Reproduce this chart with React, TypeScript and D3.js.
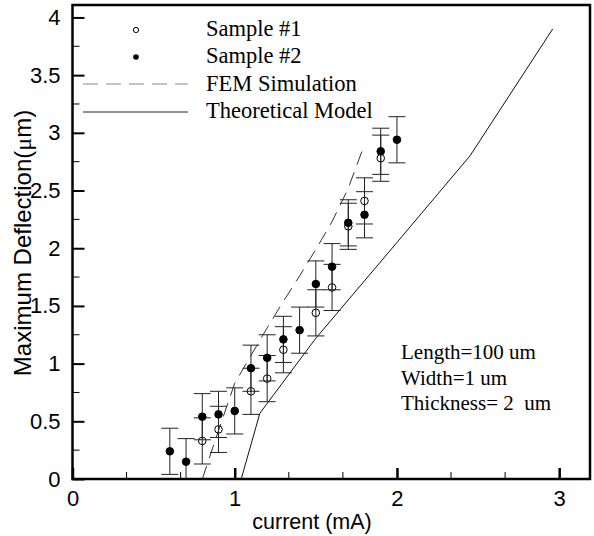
import React, { useEffect, useRef } from "react";
import * as d3 from "d3";

// Sample #1 (open circles)
const sample1X = [0.8, 0.9, 1.1, 1.2, 1.3, 1.5, 1.6, 1.7, 1.8, 1.9];
const sample1Y = [0.33, 0.43, 0.76, 0.87, 1.12, 1.44, 1.66, 2.19, 2.41, 2.78];
const sample1Err = [0.2, 0.2, 0.2, 0.2, 0.2, 0.2, 0.2, 0.2, 0.2, 0.2];

// Sample #2 (filled circles)
const sample2X = [0.6, 0.7, 0.8, 0.9, 1.0, 1.1, 1.2, 1.3, 1.4, 1.5, 1.6, 1.7, 1.8, 1.9, 2.0];
const sample2Y = [0.24, 0.15, 0.54, 0.56, 0.59, 0.96, 1.05, 1.21, 1.29, 1.69, 1.84, 2.22, 2.29, 2.84, 2.94];
const sample2Err = [0.2, 0.2, 0.2, 0.2, 0.2, 0.2, 0.2, 0.2, 0.2, 0.2, 0.2, 0.2, 0.2, 0.2, 0.2];

// FEM simulation (dashed)
const femX = [0.8, 0.9, 1.0, 1.1, 1.2, 1.3, 1.4, 1.5, 1.6, 1.7, 1.8];
const femY = [0, 0.42, 0.83, 1.07, 1.31, 1.54, 1.76, 1.99, 2.23, 2.52, 2.9];

// Theoretical model (solid)
const theoryX = [1.04, 1.155, 1.5, 2.0, 2.45, 2.96];
const theoryY = [0, 0.57, 1.22, 2.05, 2.8, 3.9];

const yTicks = [0, 0.5, 1, 1.5, 2, 2.5, 3, 3.5, 4];
const xTicks = [0, 1, 2, 3];

const legendLabels = ["Sample #1", "Sample #2", "FEM Simulation", "Theoretical Model"];
const noteLines = ["Length=100 um", "Width=1 um", "Thickness= 2  um"];

const App = () => {
  const svgRef = useRef(null);

  useEffect(() => {
    const svg = d3.select(svgRef.current);
    svg.selectAll("*").remove();

    const left = 72.5, right = 590, top = 5, bottom = 479;
    const x = d3.scaleLinear().domain([0, 3.19]).range([left, right]);
    const y = d3.scaleLinear().domain([0, 4.1]).range([bottom, 5.9]);

    svg.append("rect").attr("width", 594).attr("height", 536).attr("fill", "#fff");

    svg
      .append("clipPath")
      .attr("id", "plot-clip")
      .append("rect")
      .attr("x", left)
      .attr("y", top)
      .attr("width", right - left)
      .attr("height", bottom - top);

    const plot = svg.append("g").attr("clip-path", "url(#plot-clip)");

    // lines
    const line = d3
      .line()
      .x((d) => x(d[0]))
      .y((d) => y(d[1]));

    plot
      .append("path")
      .datum(femX.map((v, i) => [v, femY[i]]))
      .attr("d", line)
      .attr("fill", "none")
      .attr("stroke", "#333")
      .attr("stroke-width", 1)
      .attr("stroke-dasharray", "14,8");

    plot
      .append("path")
      .datum(theoryX.map((v, i) => [v, theoryY[i]]))
      .attr("d", line)
      .attr("fill", "none")
      .attr("stroke", "#111")
      .attr("stroke-width", 1);

    // error bars + markers
    const drawSeries = (xs, ys, errs, filled) => {
      const pts = xs.map((v, i) => ({ x: v, y: ys[i], e: errs[i] }));
      const g = plot.append("g");
      const bars = g.selectAll("g.bar").data(pts).join("g").attr("class", "bar");
      bars
        .append("line")
        .attr("x1", (d) => x(d.x))
        .attr("x2", (d) => x(d.x))
        .attr("y1", (d) => y(d.y - d.e))
        .attr("y2", (d) => y(d.y + d.e));
      bars
        .append("line")
        .attr("x1", (d) => x(d.x) - 8.5)
        .attr("x2", (d) => x(d.x) + 8.5)
        .attr("y1", (d) => y(d.y + d.e))
        .attr("y2", (d) => y(d.y + d.e));
      bars
        .append("line")
        .attr("x1", (d) => x(d.x) - 8.5)
        .attr("x2", (d) => x(d.x) + 8.5)
        .attr("y1", (d) => y(d.y - d.e))
        .attr("y2", (d) => y(d.y - d.e));
      bars.selectAll("line").attr("stroke", "#222").attr("stroke-width", 1);

      g.selectAll("circle")
        .data(pts)
        .join("circle")
        .attr("cx", (d) => x(d.x))
        .attr("cy", (d) => y(d.y))
        .attr("r", 3.8)
        .attr("fill", filled ? "#000" : "none")
        .attr("stroke", "#000")
        .attr("stroke-width", 1);
    };
    drawSeries(sample1X, sample1Y, sample1Err, false);
    drawSeries(sample2X, sample2Y, sample2Err, true);

    // Axes
    const axisFont = "'Liberation Sans', Arial, sans-serif";

    const yAxis = d3
      .axisLeft(y)
      .tickValues(yTicks)
      .tickSize(-12)
      .tickPadding(12)
      .tickFormat((d) => String(d));
    const yg = svg.append("g").attr("transform", `translate(${left},0)`).call(yAxis);
    yg.select(".domain").remove();
    yg.selectAll(".tick line").attr("stroke", "#000").attr("stroke-width", 2);
    yg.selectAll(".tick text")
      .attr("font-family", axisFont)
      .attr("font-size", 22)
      .attr("fill", "#000");

    const yMinor = d3.range(0.25, 4.1, 0.5);
    svg
      .append("g")
      .selectAll("line")
      .data(yMinor)
      .join("line")
      .attr("x1", left)
      .attr("x2", left + 7)
      .attr("y1", (d) => y(d))
      .attr("y2", (d) => y(d))
      .attr("stroke", "#000")
      .attr("stroke-width", 1);

    const xAxis = d3
      .axisBottom(x)
      .tickValues(xTicks)
      .tickSize(-11)
      .tickPadding(11)
      .tickFormat((d) => String(d));
    const xg = svg.append("g").attr("transform", `translate(0,${bottom})`).call(xAxis);
    xg.select(".domain").remove();
    xg.selectAll(".tick line").attr("stroke", "#000").attr("stroke-width", 2.5);
    xg.selectAll(".tick text")
      .attr("font-family", axisFont)
      .attr("font-size", 22)
      .attr("fill", "#000");

    const xMinor = [1, 2, 4, 5, 7, 8].map((k) => k / 3);
    svg
      .append("g")
      .selectAll("line")
      .data(xMinor)
      .join("line")
      .attr("x1", (d) => x(d))
      .attr("x2", (d) => x(d))
      .attr("y1", bottom)
      .attr("y2", bottom - 7)
      .attr("stroke", "#000")
      .attr("stroke-width", 1);

    // frame
    svg
      .append("rect")
      .attr("x", left)
      .attr("y", top)
      .attr("width", right - left)
      .attr("height", bottom - top)
      .attr("fill", "none")
      .attr("stroke", "#000")
      .attr("stroke-width", 2.5);

    // axis titles
    svg
      .append("text")
      .attr("x", 312)
      .attr("y", 529)
      .attr("text-anchor", "middle")
      .attr("font-family", axisFont)
      .attr("font-size", 21.5)
      .text("current (mA)");

    const yt = svg
      .append("text")
      .attr("transform", "translate(31,243) rotate(-90)")
      .attr("text-anchor", "middle")
      .attr("font-family", axisFont)
      .attr("font-size", 24);
    yt.append("tspan").text("Maximum Deflection(");
    yt.append("tspan").attr("font-family", "'Liberation Serif', serif").text("\u03bc");
    yt.append("tspan").text("m)");

    // legend
    const serif = "'Liberation Serif', 'Times New Roman', serif";
    const lg = svg.append("g");
    const rowY = [36, 63, 91, 118];
    lg.append("circle").attr("cx", 136).attr("cy", 30).attr("r", 2.6)
      .attr("fill", "#fff").attr("stroke", "#000").attr("stroke-width", 1);
    lg.append("circle").attr("cx", 136).attr("cy", 57).attr("r", 2.8).attr("fill", "#000");
    lg.append("line").attr("x1", 83).attr("x2", 188).attr("y1", 84).attr("y2", 84)
      .attr("stroke", "#888").attr("stroke-width", 1).attr("stroke-dasharray", "15,8");
    lg.append("line").attr("x1", 83).attr("x2", 188).attr("y1", 112).attr("y2", 112)
      .attr("stroke", "#222").attr("stroke-width", 1);
    lg.selectAll("text")
      .data(legendLabels)
      .join("text")
      .attr("x", 206)
      .attr("y", (d, i) => rowY[i])
      .attr("font-family", serif)
      .attr("font-size", 22.5)
      .text((d) => d);

    // annotation
    svg
      .append("g")
      .selectAll("text")
      .data(noteLines)
      .join("text")
      .attr("x", 401)
      .attr("y", (d, i) => 359 + i * 25.5)
      .attr("font-family", serif)
      .attr("font-size", 21)
      .style("white-space", "pre")
      .text((d) => d);
  }, []);

  return (
    <svg
      ref={svgRef}
      width={594}
      height={536}
      style={{ position: "absolute", left: 0, top: 0 }}
    />
  );
};

export default App;
